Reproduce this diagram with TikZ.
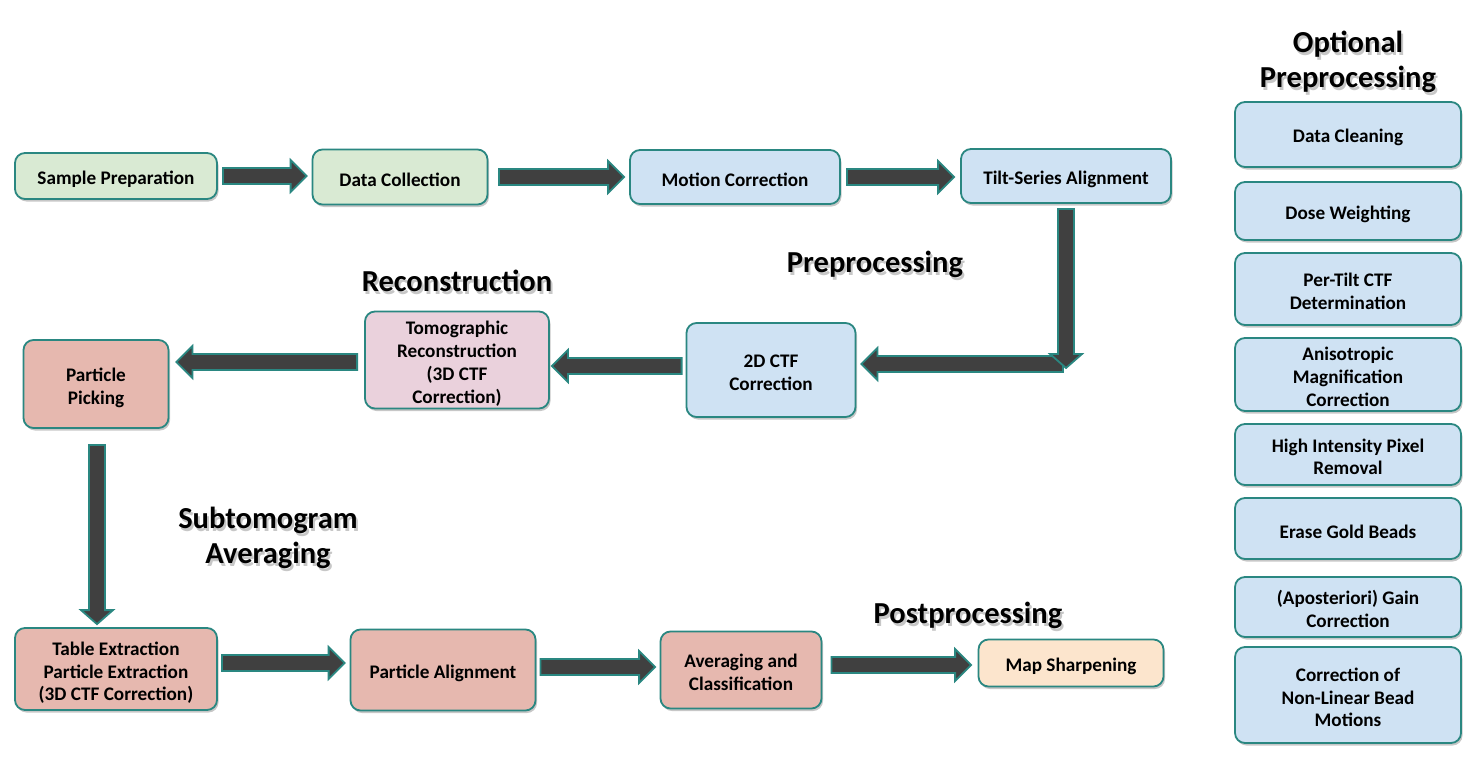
\documentclass[tikz,border=0pt]{standalone}
\usepackage{fontspec}
\setmainfont{Carlito}
\usetikzlibrary{calc,shadows}
\definecolor{bord}{HTML}{2A8781}
\definecolor{arrfill}{HTML}{404040}
\definecolor{gfill}{HTML}{D9EAD3}
\definecolor{bfill}{HTML}{CFE2F3}
\definecolor{pkfill}{HTML}{EAD1DC}
\definecolor{sfill}{HTML}{E6B8AF}
\definecolor{pefill}{HTML}{FCE5CD}
\newcommand\boxfont{\fontsize{19.2}{22.7}\selectfont\bfseries}
\newcommand\titlefont{\fontsize{30.5}{34.5}\selectfont\bfseries}
\newcommand\ml[1]{\raisebox{0pt}[\dimexpr\height+4.5pt\relax][\dimexpr\depth-4.5pt\relax]{\begin{tabular}{@{}c@{}}#1\end{tabular}}}
\tikzset{
  box/.style={draw=bord, line width=1.8pt, rounded corners=10pt, align=center,
    font=\boxfont, inner sep=2pt,
    execute at begin node={\rule{0pt}{20pt}},
    drop shadow={shadow xshift=1.5pt, shadow yshift=-2.5pt, opacity=0.22, fill=black}},
  titlestyle/.style={font=\titlefont, align=center, inner sep=0pt},
  fatarr/.style={fill=arrfill, draw=bord, line width=1.8pt, line join=miter},
}
% arrows
\newcommand\rarrow[2]{\path let \p1=(#1), \p2=(#2) in [fatarr]
  (\x1,\y1+8pt) -- (\x2-16pt,\y1+8pt) -- (\x2-16pt,\y1+16pt) -- (\x2,\y1)
  -- (\x2-16pt,\y1-16pt) -- (\x2-16pt,\y1-8pt) -- (\x1,\y1-8pt) -- cycle;}
\newcommand\larrow[2]{\path let \p1=(#1), \p2=(#2) in [fatarr]
  (\x1,\y1+8pt) -- (\x2+16pt,\y1+8pt) -- (\x2+16pt,\y1+16pt) -- (\x2,\y1)
  -- (\x2+16pt,\y1-16pt) -- (\x2+16pt,\y1-8pt) -- (\x1,\y1-8pt) -- cycle;}
\newcommand\darrow[2]{\path let \p1=(#1), \p2=(#2) in [fatarr]
  (\x1-8pt,\y1) -- (\x1-8pt,\y2+14pt) -- (\x1-16pt,\y2+14pt) -- (\x1,\y2)
  -- (\x1+16pt,\y2+14pt) -- (\x1+8pt,\y2+14pt) -- (\x1+8pt,\y1) -- cycle;}
\newcommand\stitle[3]{%
  \node[titlestyle, text=black, text opacity=0.22] (#1s) at ($(#2)+(2,3)$) {#3};
  \node[titlestyle] (#1) at (#2) {#3};}
\begin{document}
\begin{tikzpicture}[x=1pt,y=-1pt]
\fill[white] (0,0) rectangle (1471,757);
\useasboundingbox (0,0) rectangle (1471,757);

% row 1
\node[box, fill=gfill, minimum width=202pt, minimum height=46pt] (sp) at (116,176) {Sample Preparation};
\node[box, fill=gfill, minimum width=175pt, minimum height=55pt] (dc) at (400,177) {Data Collection};
\node[box, fill=bfill, minimum width=210pt, minimum height=54pt] (mc) at (735,177) {Motion Correction};
\node[box, fill=bfill, minimum width=210pt, minimum height=54pt] (tsa) at (1066,176) {Tilt-Series Alignment};

% row 2
\node[box, fill=bfill, minimum width=169pt, minimum height=94pt] (ctf) at (771,370) {\ml{2D CTF\\Correction}};
\node[box, fill=pkfill, minimum width=184pt, minimum height=97pt] (tomo) at (457,360) {\ml{Tomographic\\Reconstruction\\(3D CTF\\Correction)}};
\node[box, fill=sfill, minimum width=145pt, minimum height=88pt] (pp) at (96,384) {\ml{Particle\\Picking}};

% row 3
\node[box, fill=sfill, minimum width=202pt, minimum height=82pt] (te) at (116,669) {\ml{Table Extraction\\Particle Extraction\\(3D CTF Correction)}};
\node[box, fill=sfill, minimum width=185pt, minimum height=81pt] (pa) at (443,670) {Particle Alignment};
\node[box, fill=sfill, minimum width=161pt, minimum height=77pt] (avg) at (741,670) {\ml{Averaging and\\Classification}};
\node[box, fill=pefill, minimum width=185pt, minimum height=47pt] (ms) at (1071,663) {Map Sharpening};

% optional column
\node[box, fill=bfill, minimum width=226pt, minimum height=65pt] (o1) at (1348,134.5) {Data Cleaning};
\node[box, fill=bfill, minimum width=226pt, minimum height=58pt] (o2) at (1348,211) {Dose Weighting};
\node[box, fill=bfill, minimum width=226pt, minimum height=72pt] (o3) at (1348,289) {\ml{Per-Tilt CTF\\Determination}};
\node[box, fill=bfill, minimum width=226pt, minimum height=73pt] (o4) at (1348,374.5) {\ml{Anisotropic\\Magnification\\Correction}};
\node[box, fill=bfill, minimum width=226pt, minimum height=61pt] (o5) at (1348,454.5) {\ml{High Intensity Pixel\\Removal}};
\node[box, fill=bfill, minimum width=226pt, minimum height=61pt] (o6) at (1348,528.5) {Erase Gold Beads};
\node[box, fill=bfill, minimum width=226pt, minimum height=60pt] (o7) at (1348,607) {\ml{(Aposteriori) Gain\\Correction}};
\node[box, fill=bfill, minimum width=226pt, minimum height=96pt] (o8) at (1348,695) {\ml{Correction of\\Non-Linear Bead\\Motions}};

% titles
\stitle{topt}{1348,62}{Optional\\Preprocessing}
\stitle{tpre}{875,264}{Preprocessing}
\stitle{trec}{457,281}{Reconstruction}
\stitle{tsub}{268,538}{Subtomogram\\Averaging}
\stitle{tpost}{968,615}{Postprocessing}

% arrows
\rarrow{$(sp.east)+(5,0)$}{$(dc.west)+(-5,-1)$}
\rarrow{$(dc.east)+(10.5,0)$}{$(mc.west)+(-5,0)$}
\rarrow{$(mc.east)+(6,0)$}{$(tsa.west)+(-6,0)$}
\coordinate (corner) at ($(tsa.south |- ctf.east)+(0,-2)$);
\larrow{$(corner)+(-3,-4)$}{$(ctf.east)+(5,-6)$}
\darrow{$(tsa.south)+(0,5)$}{corner}
\larrow{$(ctf.west)+(-4,-4)$}{$(tomo.east)+(2,6)$}
\larrow{$(tomo.west)+(-7,2)$}{$(pp.east)+(7,0)$}
\darrow{$(pp.south)+(1,16)$}{$(te.north)+(-19,-3)$}
\rarrow{$(te.east)+(4,-6)$}{$(pa.west)+(-5,0)$}
\rarrow{$(pa.east)+(4,-3)$}{$(avg.west)+(-4.5,0)$}
\rarrow{$(avg.east)+(9,-5)$}{$(ms.west)+(-6.5,0)$}
\end{tikzpicture}
\end{document}
